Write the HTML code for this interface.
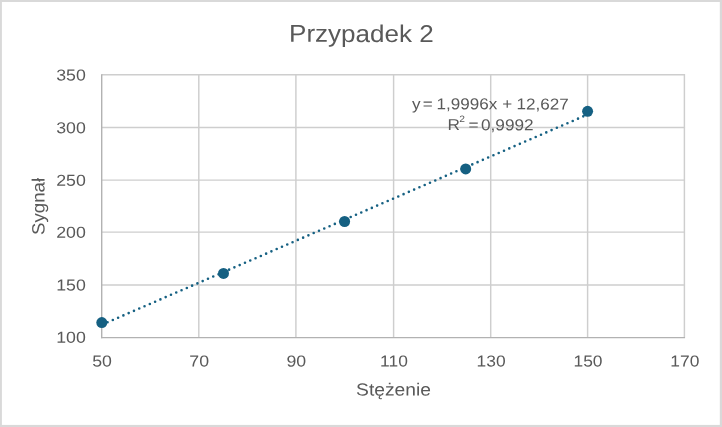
<!DOCTYPE html>
<html lang="pl">
<head>
<meta charset="utf-8">
<title>Przypadek 2</title>
<style>
html,body{margin:0;padding:0;background:#fff;}
body{width:722px;height:427px;overflow:hidden;}
svg{display:block;}
text{font-family:"Liberation Sans",sans-serif;fill:#595959;text-rendering:geometricPrecision;}
</style>
</head>
<body>
<svg width="722" height="427" viewBox="0 0 722 427">
  <rect x="0" y="0" width="722" height="427" fill="#d9d9d9"/>
  <rect x="1.9" y="2" width="717.9" height="422.9" fill="#ffffff"/>

  <!-- gridlines -->
  <g stroke="#cecece" stroke-width="1.45" fill="none">
    <line x1="101.7" y1="74.8" x2="685.05" y2="74.8"/>
    <line x1="101.7" y1="127.5" x2="685.05" y2="127.5"/>
    <line x1="101.7" y1="180.1" x2="685.05" y2="180.1"/>
    <line x1="101.7" y1="232.1" x2="685.05" y2="232.1"/>
    <line x1="101.7" y1="285.0" x2="685.05" y2="285.0"/>
    <line x1="198.8" y1="74.15" x2="198.8" y2="337.6"/>
    <line x1="295.9" y1="74.15" x2="295.9" y2="337.6"/>
    <line x1="393.6" y1="74.15" x2="393.6" y2="337.6"/>
    <line x1="490.7" y1="74.15" x2="490.7" y2="337.6"/>
    <line x1="587.6" y1="74.15" x2="587.6" y2="337.6"/>
    <line x1="684.4" y1="74.15" x2="684.4" y2="337.6"/>
  </g>
  <!-- axes -->
  <g stroke="#b2b2b2" stroke-width="1.4" fill="none">
    <line x1="101.7" y1="74.15" x2="101.7" y2="338.25"/>
    <line x1="101.05" y1="337.6" x2="685.05" y2="337.6"/>
  </g>

  <!-- trendline -->
  <line x1="102.25" y1="324.56" x2="587.6" y2="114.51" stroke="#156082" stroke-width="2.6" stroke-linecap="round" stroke-dasharray="0 5.76"/>

  <!-- markers -->
  <g fill="#156082">
    <circle cx="101.8" cy="322.6" r="5.5"/>
    <circle cx="223.5" cy="273.4" r="5.5"/>
    <circle cx="344.6" cy="221.5" r="5.5"/>
    <circle cx="465.7" cy="168.9" r="5.5"/>
    <circle cx="587.6" cy="111.3" r="5.5"/>
  </g>

  <!-- title -->
  <text id="title" transform="translate(361.4 41.9) rotate(0.05) scale(1.071 1)" font-size="24.3" text-anchor="middle">Przypadek 2</text>

  <!-- y labels -->
  <g font-size="15.9" text-anchor="end">
    <text transform="translate(85.8 80.55) rotate(0.05) scale(1.115 1)">350</text>
    <text transform="translate(85.8 133.25) rotate(0.05) scale(1.115 1)">300</text>
    <text transform="translate(85.8 185.85) rotate(0.05) scale(1.115 1)">250</text>
    <text transform="translate(85.8 237.85) rotate(0.05) scale(1.115 1)">200</text>
    <text transform="translate(85.8 290.45) rotate(0.05) scale(1.115 1)">150</text>
    <text transform="translate(85.8 342.8) rotate(0.05) scale(1.115 1)">100</text>
  </g>
  <!-- x labels -->
  <g font-size="15.9" text-anchor="middle">
    <text transform="translate(102.1 366.5) rotate(0.05) scale(1.115 1)">50</text>
    <text transform="translate(199.2 366.5) rotate(0.05) scale(1.115 1)">70</text>
    <text transform="translate(296.3 366.5) rotate(0.05) scale(1.115 1)">90</text>
    <text transform="translate(394.0 366.5) rotate(0.05) scale(1.095 1)">110</text>
    <text transform="translate(491.1 366.5) rotate(0.05) scale(1.095 1)">130</text>
    <text transform="translate(588.0 366.5) rotate(0.05) scale(1.095 1)">150</text>
    <text transform="translate(684.8 366.5) rotate(0.05) scale(1.095 1)">170</text>
  </g>

  <!-- axis titles -->
  <text id="xt" transform="translate(393.5 395.5) rotate(0.05) scale(1.10 1)" font-size="17.5" text-anchor="middle">Stężenie</text>
  <text id="yt" transform="translate(44.4 206.4) rotate(-89.95) scale(1.05 1)" font-size="17.8" text-anchor="middle">Sygnał</text>

  <!-- equation -->
  <text id="eq1" transform="translate(490 109.35) rotate(0.05) scale(1.08 1)" font-size="15.8"><tspan x="-72.22">y </tspan><tspan x="-62.22">= </tspan><tspan x="-49.44">1,9996x </tspan><tspan x="11.3">+ </tspan><tspan x="24.63">12,627</tspan></text>
  <text id="eq2" transform="translate(490 130.15) rotate(0.05) scale(1.09 1)" font-size="15.8"><tspan x="-38.9">R</tspan><tspan x="-28.17" dy="-8.1" font-size="9.4">2 </tspan><tspan x="-19.82" dy="8.1">= </tspan><tspan x="-8.26">0,9992</tspan></text>
</svg>
</body>
</html>
